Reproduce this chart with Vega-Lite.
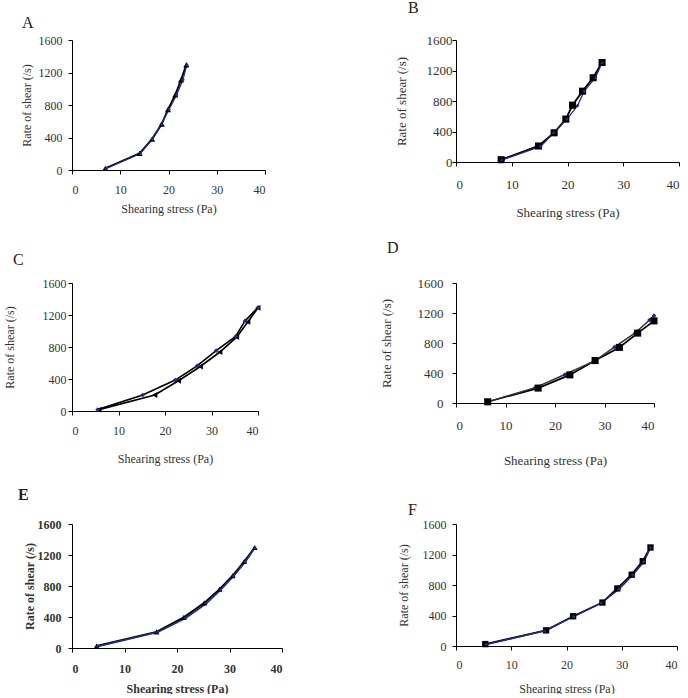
{
  "$schema": "https://vega.github.io/schema/vega-lite/v6.json",
  "background": "white",
  "padding": {"left": 3, "top": 0, "right": 0, "bottom": 0},
  "datasets": {
    "pts": [
      {"p": "A", "s": "obs", "x": 6.9, "y": 20}, {"p": "A", "s": "obs", "x": 14.0, "y": 205}, {"p": "A", "s": "obs", "x": 16.6, "y": 380}, {"p": "A", "s": "obs", "x": 18.6, "y": 565}, {"p": "A", "s": "obs", "x": 19.9, "y": 745}, {"p": "A", "s": "obs", "x": 21.4, "y": 925}, {"p": "A", "s": "obs", "x": 22.6, "y": 1110}, {"p": "A", "s": "obs", "x": 23.7, "y": 1295},
      {"p": "A", "s": "fit", "x": 7.1, "y": 20}, {"p": "A", "s": "fit", "x": 14.2, "y": 205}, {"p": "A", "s": "fit", "x": 16.6, "y": 380}, {"p": "A", "s": "fit", "x": 18.5, "y": 565}, {"p": "A", "s": "fit", "x": 20.1, "y": 745}, {"p": "A", "s": "fit", "x": 21.7, "y": 925}, {"p": "A", "s": "fit", "x": 23.0, "y": 1110}, {"p": "A", "s": "fit", "x": 23.8, "y": 1295},
      {"p": "B", "s": "obs", "x": 8.1, "y": 30}, {"p": "B", "s": "obs", "x": 14.8, "y": 210}, {"p": "B", "s": "obs", "x": 17.6, "y": 383}, {"p": "B", "s": "obs", "x": 19.7, "y": 563}, {"p": "B", "s": "obs", "x": 20.9, "y": 745}, {"p": "B", "s": "obs", "x": 22.7, "y": 929}, {"p": "B", "s": "obs", "x": 24.6, "y": 1105}, {"p": "B", "s": "obs", "x": 26.2, "y": 1305},
      {"p": "B", "s": "fit", "x": 8.2, "y": 25}, {"p": "B", "s": "fit", "x": 15.2, "y": 205}, {"p": "B", "s": "fit", "x": 17.5, "y": 383}, {"p": "B", "s": "fit", "x": 19.9, "y": 563}, {"p": "B", "s": "fit", "x": 21.8, "y": 740}, {"p": "B", "s": "fit", "x": 23.0, "y": 929}, {"p": "B", "s": "fit", "x": 25.0, "y": 1105}, {"p": "B", "s": "fit", "x": 26.2, "y": 1300},
      {"p": "C", "s": "obs", "x": 5.8, "y": 17}, {"p": "C", "s": "obs", "x": 17.8, "y": 200}, {"p": "C", "s": "obs", "x": 22.9, "y": 378}, {"p": "C", "s": "obs", "x": 27.6, "y": 556}, {"p": "C", "s": "obs", "x": 31.8, "y": 737}, {"p": "C", "s": "obs", "x": 35.4, "y": 923}, {"p": "C", "s": "obs", "x": 37.8, "y": 1113}, {"p": "C", "s": "obs", "x": 40.0, "y": 1290},
      {"p": "C", "s": "fit", "x": 5.5, "y": 17}, {"p": "C", "s": "fit", "x": 15.2, "y": 200}, {"p": "C", "s": "fit", "x": 22.2, "y": 386}, {"p": "C", "s": "fit", "x": 26.9, "y": 564}, {"p": "C", "s": "fit", "x": 31.0, "y": 754}, {"p": "C", "s": "fit", "x": 35.2, "y": 932}, {"p": "C", "s": "fit", "x": 37.2, "y": 1126}, {"p": "C", "s": "fit", "x": 40.0, "y": 1295},
      {"p": "D", "s": "obs", "x": 6.4, "y": 16}, {"p": "D", "s": "obs", "x": 16.6, "y": 199}, {"p": "D", "s": "obs", "x": 23.0, "y": 375}, {"p": "D", "s": "obs", "x": 28.1, "y": 566}, {"p": "D", "s": "obs", "x": 33.0, "y": 741}, {"p": "D", "s": "obs", "x": 36.7, "y": 932}, {"p": "D", "s": "obs", "x": 40.0, "y": 1095},
      {"p": "D", "s": "fit", "x": 6.4, "y": 16}, {"p": "D", "s": "fit", "x": 16.0, "y": 205}, {"p": "D", "s": "fit", "x": 22.0, "y": 380}, {"p": "D", "s": "fit", "x": 28.1, "y": 566}, {"p": "D", "s": "fit", "x": 32.0, "y": 745}, {"p": "D", "s": "fit", "x": 36.2, "y": 935}, {"p": "D", "s": "fit", "x": 39.1, "y": 1107}, {"p": "D", "s": "fit", "x": 40.0, "y": 1165},
      {"p": "E", "s": "obs", "x": 4.7, "y": 26}, {"p": "E", "s": "obs", "x": 16.1, "y": 208}, {"p": "E", "s": "obs", "x": 21.3, "y": 395}, {"p": "E", "s": "obs", "x": 25.2, "y": 582}, {"p": "E", "s": "obs", "x": 28.1, "y": 759}, {"p": "E", "s": "obs", "x": 30.6, "y": 933}, {"p": "E", "s": "obs", "x": 32.8, "y": 1115}, {"p": "E", "s": "obs", "x": 34.8, "y": 1297},
      {"p": "E", "s": "fit", "x": 4.9, "y": 20}, {"p": "E", "s": "fit", "x": 16.3, "y": 205}, {"p": "E", "s": "fit", "x": 21.6, "y": 385}, {"p": "E", "s": "fit", "x": 25.5, "y": 570}, {"p": "E", "s": "fit", "x": 28.3, "y": 750}, {"p": "E", "s": "fit", "x": 30.8, "y": 930}, {"p": "E", "s": "fit", "x": 33.0, "y": 1110}, {"p": "E", "s": "fit", "x": 34.8, "y": 1290},
      {"p": "F", "s": "obs", "x": 5.3, "y": 25}, {"p": "F", "s": "obs", "x": 16.3, "y": 205}, {"p": "F", "s": "obs", "x": 21.2, "y": 390}, {"p": "F", "s": "obs", "x": 26.5, "y": 570}, {"p": "F", "s": "obs", "x": 29.2, "y": 755}, {"p": "F", "s": "obs", "x": 31.8, "y": 935}, {"p": "F", "s": "obs", "x": 33.8, "y": 1112}, {"p": "F", "s": "obs", "x": 35.2, "y": 1292},
      {"p": "F", "s": "fit", "x": 5.5, "y": 20}, {"p": "F", "s": "fit", "x": 16.0, "y": 200}, {"p": "F", "s": "fit", "x": 21.3, "y": 385}, {"p": "F", "s": "fit", "x": 26.3, "y": 565}, {"p": "F", "s": "fit", "x": 29.5, "y": 745}, {"p": "F", "s": "fit", "x": 32.0, "y": 930}, {"p": "F", "s": "fit", "x": 34.0, "y": 1105}, {"p": "F", "s": "fit", "x": 35.2, "y": 1290}
    ]
  },
  "data": {"name": "pts"},
  "columns": 2,
  "bounds": "flush",
  "align": "each",
  "spacing": {"column": 174, "row": 113},
  "concat": [
    {
      "width": 193, "height": 130,
      "title": {"text": "A", "dx": -50, "offset": 3},
      "transform": [{"filter": "datum.p === 'A'"}],
      "encoding": {
        "x": {"field": "x", "type": "quantitative", "scale": {"domain": [0, 40], "nice": false}, "axis": {"values": [0, 10, 20, 30, 40], "title": "Shearing stress (Pa)", "labelPadding": 10, "titlePadding": 8}},
        "y": {"field": "y", "type": "quantitative", "scale": {"domain": [0, 1600], "nice": false}, "axis": {"values": [0, 400, 800, 1200, 1600], "format": "d", "title": "Rate of shear (/s)", "labelPadding": 6, "titlePadding": 5}}
      },
      "layer": [
        {"transform": [{"filter": "datum.s === 'obs'"}], "mark": {"type": "line", "color": "black", "strokeWidth": 1.9, "clip": true}},
        {"transform": [{"filter": "datum.s === 'fit'"}], "mark": {"type": "line", "color": "#1f2a8c", "strokeWidth": 1.2, "clip": true}},
        {"transform": [{"filter": "datum.s === 'obs'"}], "mark": {"type": "point", "shape": "triangle-up", "filled": true, "color": "black", "opacity": 1, "size": 38}},
        {"transform": [{"filter": "datum.s === 'fit'"}], "mark": {"type": "point", "shape": "diamond", "filled": true, "color": "#1f2a8c", "opacity": 1, "size": 14}}
      ]
    },
    {
      "width": 223, "height": 122,
      "title": {"text": "B", "dx": -48, "offset": 18},
      "transform": [{"filter": "datum.p === 'B'"}],
      "encoding": {
        "x": {"field": "x", "type": "quantitative", "scale": {"domain": [0, 40], "nice": false}, "axis": {"values": [0, 10, 20, 30, 40], "title": "Shearing stress (Pa)", "labelPadding": 12, "labelFontSize": 13, "titleFontSize": 13, "titlePadding": 15}},
        "y": {"field": "y", "type": "quantitative", "scale": {"domain": [0, 1600], "nice": false}, "axis": {"values": [0, 400, 800, 1200, 1600], "format": "d", "title": "Rate of shear (/s)", "labelPadding": 0, "labelFontSize": 13, "titleFontSize": 13, "titlePadding": 18}}
      },
      "layer": [
        {"transform": [{"filter": "datum.s === 'obs'"}], "mark": {"type": "line", "color": "black", "strokeWidth": 1.9, "clip": true}},
        {"transform": [{"filter": "datum.s === 'fit'"}], "mark": {"type": "line", "color": "#1f2a8c", "strokeWidth": 1.2, "clip": true}},
        {"transform": [{"filter": "datum.s === 'obs'"}], "mark": {"type": "point", "shape": "square", "filled": true, "color": "black", "opacity": 1, "size": 50}},
        {"transform": [{"filter": "datum.s === 'fit'"}], "mark": {"type": "point", "shape": "diamond", "filled": true, "color": "#1f2a8c", "opacity": 1, "size": 14}}
      ]
    },
    {
      "width": 186, "height": 128,
      "title": {"text": "C", "dx": -59, "offset": 9},
      "transform": [{"filter": "datum.p === 'C'"}],
      "encoding": {
        "x": {"field": "x", "type": "quantitative", "scale": {"domain": [0, 40], "nice": false}, "axis": {"values": [0, 10, 20, 30, 40], "title": "Shearing stress (Pa)", "labelPadding": 10, "titlePadding": 17}},
        "y": {"field": "y", "type": "quantitative", "scale": {"domain": [0, 1600], "nice": false}, "axis": {"values": [0, 400, 800, 1200, 1600], "format": "d", "title": "Rate of shear (/s)", "labelPadding": 2, "titlePadding": 26}}
      },
      "layer": [
        {"transform": [{"filter": "datum.s === 'obs'"}], "mark": {"type": "line", "color": "black", "strokeWidth": 1.7, "clip": true}},
        {"transform": [{"filter": "datum.s === 'fit'"}], "mark": {"type": "line", "color": "black", "strokeWidth": 1.7, "clip": true}},
        {"transform": [{"filter": "datum.s === 'obs'"}], "mark": {"type": "point", "shape": "triangle-left", "filled": true, "color": "black", "opacity": 1, "size": 34}},
        {"transform": [{"filter": "datum.s === 'fit'"}], "mark": {"type": "point", "shape": "diamond", "filled": true, "color": "#1f2a8c", "opacity": 1, "size": 22}}
      ]
    },
    {
      "width": 198, "height": 120,
      "title": {"text": "D", "dx": -69, "offset": 21},
      "transform": [{"filter": "datum.p === 'D'"}],
      "encoding": {
        "x": {"field": "x", "type": "quantitative", "scale": {"domain": [0, 40], "nice": false}, "axis": {"values": [0, 10, 20, 30, 40], "title": "Shearing stress (Pa)", "labelPadding": 12, "labelFontSize": 13, "titleFontSize": 13, "titlePadding": 22}},
        "y": {"field": "y", "type": "quantitative", "scale": {"domain": [0, 1600], "nice": false}, "axis": {"values": [0, 400, 800, 1200, 1600], "format": "d", "title": "Rate of shear (/s)", "labelPadding": 9, "labelFontSize": 13, "titleFontSize": 13, "titlePadding": 24}}
      },
      "layer": [
        {"transform": [{"filter": "datum.s === 'obs'"}], "mark": {"type": "line", "color": "black", "strokeWidth": 1.7, "clip": true}},
        {"transform": [{"filter": "datum.s === 'fit'"}], "mark": {"type": "line", "color": "#333333", "strokeWidth": 1.4, "clip": true}},
        {"transform": [{"filter": "datum.s === 'fit'"}], "mark": {"type": "point", "shape": "diamond", "filled": true, "color": "#1f2a8c", "opacity": 1, "size": 22}},
        {"transform": [{"filter": "datum.s === 'obs'"}], "mark": {"type": "point", "shape": "square", "filled": true, "color": "black", "opacity": 1, "size": 50}}
      ]
    },
    {
      "width": 210, "height": 124,
      "title": {"text": "E", "dx": -54, "offset": 15, "fontWeight": "bold"},
      "transform": [{"filter": "datum.p === 'E'"}],
      "encoding": {
        "x": {"field": "x", "type": "quantitative", "scale": {"domain": [0, 40], "nice": false}, "axis": {"values": [0, 10, 20, 30, 40], "title": "Shearing stress (Pa)", "labelPadding": 11, "labelFontWeight": "bold", "titleFontWeight": "bold", "titlePadding": 9}},
        "y": {"field": "y", "type": "quantitative", "scale": {"domain": [0, 1600], "nice": false}, "axis": {"values": [0, 400, 800, 1200, 1600], "format": "d", "title": "Rate of shear (/s)", "labelPadding": 7, "labelFontWeight": "bold", "titleFontWeight": "bold", "titlePadding": 1}}
      },
      "layer": [
        {"transform": [{"filter": "datum.s === 'obs'"}], "mark": {"type": "line", "color": "black", "strokeWidth": 1.9, "clip": true}},
        {"transform": [{"filter": "datum.s === 'fit'"}], "mark": {"type": "line", "color": "#1f2a8c", "strokeWidth": 1.7, "clip": true}},
        {"transform": [{"filter": "datum.s === 'obs'"}], "mark": {"type": "point", "shape": "triangle-up", "filled": true, "color": "black", "opacity": 1, "size": 34}},
        {"transform": [{"filter": "datum.s === 'fit'"}], "mark": {"type": "point", "shape": "diamond", "filled": true, "color": "#1f2a8c", "opacity": 1, "size": 14}}
      ]
    },
    {
      "width": 221, "height": 122,
      "title": {"text": "F", "dx": -48, "offset": 0},
      "transform": [{"filter": "datum.p === 'F'"}],
      "encoding": {
        "x": {"field": "x", "type": "quantitative", "scale": {"domain": [0, 40], "nice": false}, "axis": {"values": [0, 10, 20, 30, 40], "title": "Shearing stress (Pa)", "labelPadding": 9, "titlePadding": 13}},
        "y": {"field": "y", "type": "quantitative", "scale": {"domain": [0, 1600], "nice": false}, "axis": {"values": [0, 400, 800, 1200, 1600], "format": "d", "title": "Rate of shear (/s)", "labelPadding": 6, "titlePadding": 12}}
      },
      "layer": [
        {"transform": [{"filter": "datum.s === 'obs'"}], "mark": {"type": "line", "color": "black", "strokeWidth": 1.9, "clip": true}},
        {"transform": [{"filter": "datum.s === 'fit'"}], "mark": {"type": "line", "color": "#1f2a8c", "strokeWidth": 1.5, "clip": true}},
        {"transform": [{"filter": "datum.s === 'obs'"}], "mark": {"type": "point", "shape": "square", "filled": true, "color": "black", "opacity": 1, "size": 40}},
        {"transform": [{"filter": "datum.s === 'fit'"}], "mark": {"type": "point", "shape": "diamond", "filled": true, "color": "#1f2a8c", "opacity": 1, "size": 14}}
      ]
    }
  ],
  "config": {
    "view": {"stroke": null},
    "axis": {"grid": false, "domainColor": "black", "domainWidth": 1, "tickColor": "black", "tickSize": 4, "labelFont": "Liberation Serif", "titleFont": "Liberation Serif", "labelFontSize": 12, "titleFontSize": 12, "titleFontWeight": "normal", "labelColor": "#333333", "titleColor": "#333333"},
    "title": {"font": "Liberation Serif", "fontSize": 16, "fontWeight": "normal", "anchor": "start", "frame": "group", "color": "#222222"}
  }
}
